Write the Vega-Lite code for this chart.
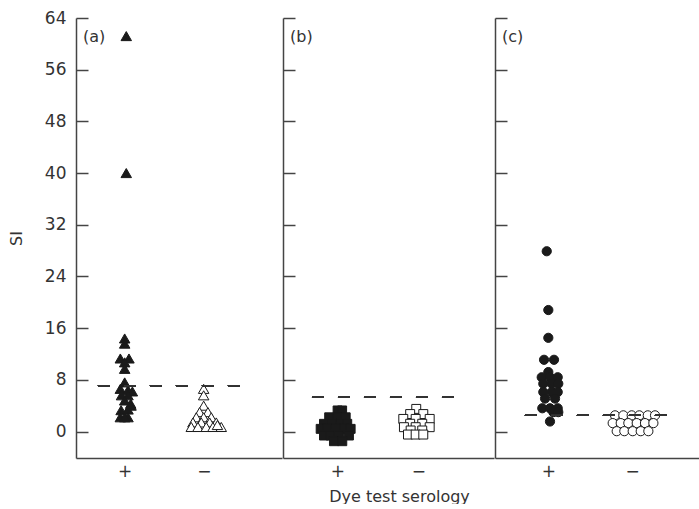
{
  "$schema": "https://vega.github.io/schema/vega-lite/v6.json",
  "padding": {"left": 8, "top": 9, "right": 0, "bottom": 0},
  "spacing": 0,
  "datasets": {
    "pts": [
      {"p": "a", "s": "+", "si": 61.2, "dx": 0.02},
      {"p": "a", "s": "+", "si": 40.0, "dx": 0.02},
      {"p": "a", "s": "+", "si": 14.4, "dx": 0.0},
      {"p": "a", "s": "+", "si": 13.6, "dx": 0.0},
      {"p": "a", "s": "+", "si": 11.3, "dx": -0.055},
      {"p": "a", "s": "+", "si": 11.3, "dx": 0.054},
      {"p": "a", "s": "+", "si": 10.7, "dx": 0.0},
      {"p": "a", "s": "+", "si": 9.7, "dx": 0.0},
      {"p": "a", "s": "+", "si": 7.6, "dx": 0.0},
      {"p": "a", "s": "+", "si": 6.6, "dx": -0.055},
      {"p": "a", "s": "+", "si": 6.4, "dx": 0.042},
      {"p": "a", "s": "+", "si": 6.2, "dx": 0.097},
      {"p": "a", "s": "+", "si": 5.6, "dx": -0.04},
      {"p": "a", "s": "+", "si": 5.6, "dx": 0.042},
      {"p": "a", "s": "+", "si": 4.8, "dx": 0.0},
      {"p": "a", "s": "+", "si": 4.3, "dx": 0.076},
      {"p": "a", "s": "+", "si": 4.0, "dx": 0.08},
      {"p": "a", "s": "+", "si": 3.3, "dx": -0.045},
      {"p": "a", "s": "+", "si": 3.4, "dx": 0.042},
      {"p": "a", "s": "+", "si": 2.2, "dx": -0.055},
      {"p": "a", "s": "+", "si": 2.2, "dx": 0.042},
      {"p": "a", "s": "+", "si": 2.2, "dx": 0.0},
      {"p": "a", "s": "−", "si": 6.6, "dx": -0.004},
      {"p": "a", "s": "−", "si": 5.6, "dx": -0.004},
      {"p": "a", "s": "−", "si": 4.0, "dx": -0.004},
      {"p": "a", "s": "−", "si": 3.0, "dx": -0.055},
      {"p": "a", "s": "−", "si": 3.0, "dx": 0.05},
      {"p": "a", "s": "−", "si": 2.2, "dx": -0.097},
      {"p": "a", "s": "−", "si": 2.2, "dx": -0.004},
      {"p": "a", "s": "−", "si": 2.2, "dx": 0.092},
      {"p": "a", "s": "−", "si": 1.4, "dx": -0.139},
      {"p": "a", "s": "−", "si": 1.4, "dx": -0.034},
      {"p": "a", "s": "−", "si": 1.4, "dx": 0.072},
      {"p": "a", "s": "−", "si": 1.4, "dx": 0.155},
      {"p": "a", "s": "−", "si": 0.7, "dx": -0.16},
      {"p": "a", "s": "−", "si": 0.7, "dx": -0.076},
      {"p": "a", "s": "−", "si": 0.7, "dx": 0.029},
      {"p": "a", "s": "−", "si": 0.7, "dx": 0.113},
      {"p": "a", "s": "−", "si": 0.7, "dx": 0.218},
      {"p": "a", "s": "−", "si": 1.0, "dx": 0.17},
      {"p": "b", "s": "+", "si": 3.26, "dx": 0.004},
      {"p": "b", "s": "+", "si": 3.26, "dx": 0.06},
      {"p": "b", "s": "+", "si": 2.2, "dx": -0.1},
      {"p": "b", "s": "+", "si": 2.2, "dx": 0.004},
      {"p": "b", "s": "+", "si": 2.2, "dx": 0.104},
      {"p": "b", "s": "+", "si": 1.19, "dx": -0.164},
      {"p": "b", "s": "+", "si": 1.19, "dx": -0.062},
      {"p": "b", "s": "+", "si": 1.19, "dx": 0.042},
      {"p": "b", "s": "+", "si": 1.19, "dx": 0.123},
      {"p": "b", "s": "+", "si": 0.41, "dx": -0.205},
      {"p": "b", "s": "+", "si": 0.41, "dx": -0.123},
      {"p": "b", "s": "+", "si": 0.41, "dx": -0.02},
      {"p": "b", "s": "+", "si": 0.41, "dx": 0.083},
      {"p": "b", "s": "+", "si": 0.41, "dx": 0.165},
      {"p": "b", "s": "+", "si": -0.62, "dx": -0.164},
      {"p": "b", "s": "+", "si": -0.62, "dx": -0.081},
      {"p": "b", "s": "+", "si": -0.62, "dx": 0.021},
      {"p": "b", "s": "+", "si": -0.62, "dx": 0.144},
      {"p": "b", "s": "+", "si": -1.5, "dx": -0.041},
      {"p": "b", "s": "+", "si": -1.5, "dx": 0.062},
      {"p": "b", "s": "−", "si": 3.5, "dx": -0.025},
      {"p": "b", "s": "−", "si": 2.7, "dx": -0.1},
      {"p": "b", "s": "−", "si": 2.7, "dx": 0.062},
      {"p": "b", "s": "−", "si": 1.95, "dx": -0.185},
      {"p": "b", "s": "−", "si": 1.95, "dx": -0.032},
      {"p": "b", "s": "−", "si": 1.95, "dx": 0.141},
      {"p": "b", "s": "−", "si": 1.2, "dx": -0.1},
      {"p": "b", "s": "−", "si": 1.2, "dx": 0.049},
      {"p": "b", "s": "−", "si": 0.67, "dx": -0.177},
      {"p": "b", "s": "−", "si": 0.67, "dx": -0.032},
      {"p": "b", "s": "−", "si": 0.67, "dx": 0.141},
      {"p": "b", "s": "−", "si": 0.16, "dx": -0.094},
      {"p": "b", "s": "−", "si": 0.16, "dx": 0.049},
      {"p": "b", "s": "−", "si": -0.47, "dx": -0.127},
      {"p": "b", "s": "−", "si": -0.47, "dx": -0.032},
      {"p": "b", "s": "−", "si": -0.47, "dx": 0.062},
      {"p": "c", "s": "+", "si": 27.9, "dx": -0.019},
      {"p": "c", "s": "+", "si": 18.8, "dx": 0.0},
      {"p": "c", "s": "+", "si": 14.5, "dx": 0.0},
      {"p": "c", "s": "+", "si": 11.1, "dx": -0.051},
      {"p": "c", "s": "+", "si": 11.1, "dx": 0.068},
      {"p": "c", "s": "+", "si": 9.2, "dx": 0.0},
      {"p": "c", "s": "+", "si": 8.4, "dx": -0.079},
      {"p": "c", "s": "+", "si": 8.4, "dx": 0.02},
      {"p": "c", "s": "+", "si": 8.4, "dx": 0.112},
      {"p": "c", "s": "+", "si": 7.4, "dx": -0.06},
      {"p": "c", "s": "+", "si": 7.4, "dx": 0.041},
      {"p": "c", "s": "+", "si": 7.4, "dx": 0.119},
      {"p": "c", "s": "+", "si": 6.1, "dx": -0.06},
      {"p": "c", "s": "+", "si": 6.1, "dx": 0.041},
      {"p": "c", "s": "+", "si": 6.1, "dx": 0.112},
      {"p": "c", "s": "+", "si": 5.1, "dx": -0.039},
      {"p": "c", "s": "+", "si": 5.1, "dx": 0.08},
      {"p": "c", "s": "+", "si": 3.6, "dx": -0.072},
      {"p": "c", "s": "+", "si": 3.6, "dx": 0.02},
      {"p": "c", "s": "+", "si": 3.6, "dx": 0.112},
      {"p": "c", "s": "+", "si": 3.0, "dx": 0.06},
      {"p": "c", "s": "+", "si": 3.0, "dx": 0.119},
      {"p": "c", "s": "+", "si": 1.55, "dx": 0.02},
      {"p": "c", "s": "−", "si": 2.5, "dx": -0.203},
      {"p": "c", "s": "−", "si": 2.5, "dx": -0.104},
      {"p": "c", "s": "−", "si": 2.5, "dx": -0.004},
      {"p": "c", "s": "−", "si": 2.5, "dx": 0.087},
      {"p": "c", "s": "−", "si": 2.5, "dx": 0.188},
      {"p": "c", "s": "−", "si": 2.5, "dx": 0.275},
      {"p": "c", "s": "−", "si": 1.3, "dx": -0.231},
      {"p": "c", "s": "−", "si": 1.3, "dx": -0.135},
      {"p": "c", "s": "−", "si": 1.3, "dx": -0.044},
      {"p": "c", "s": "−", "si": 1.3, "dx": 0.056},
      {"p": "c", "s": "−", "si": 1.3, "dx": 0.155},
      {"p": "c", "s": "−", "si": 1.3, "dx": 0.255},
      {"p": "c", "s": "−", "si": 0.05, "dx": -0.183},
      {"p": "c", "s": "−", "si": 0.05, "dx": -0.092},
      {"p": "c", "s": "−", "si": 0.05, "dx": 0.008},
      {"p": "c", "s": "−", "si": 0.05, "dx": 0.104},
      {"p": "c", "s": "−", "si": 0.05, "dx": 0.195}
    ]
  },
  "hconcat": [
    {
      "width": 206,
      "height": 440,
      "title": {"text": "(a)", "anchor": "start", "frame": "group", "offset": -36, "dx": 7},
      "data": {"name": "pts"},
      "transform": [
        {"filter": "datum.p == 'a'"},
        {"calculate": "(datum.s == '+' ? 1 : 2) + datum.dx", "as": "x"}
      ],
      "layer": [
        {
          "mark": {"type": "point", "shape": "triangle-up", "filled": true, "size": 110, "stroke": "#1a1a1a", "strokeWidth": 1, "opacity": 1},
          "encoding": {
            "x": {"field": "x", "type": "quantitative", "scale": {"domain": [0.386, 2.984], "nice": false, "zero": false},
              "axis": {"values": [1, 2], "labelExpr": "datum.value == 1 ? '+' : '−'", "ticks": false, "title": null}},
            "y": {"field": "si", "type": "quantitative", "scale": {"domain": [-4.1, 64], "nice": false, "zero": false},
              "axis": {"values": [0, 8, 16, 24, 32, 40, 48, 56, 64], "tickSize": -12, "labelPadding": 22, "title": "SI", "titlePadding": 20}},
            "fill": {"field": "s", "type": "nominal", "scale": {"domain": ["+", "−"], "range": ["#1a1a1a", "#ffffff"]}, "legend": null}
          }
        },
        {
          "mark": {"type": "rule", "strokeDash": [12, 14], "stroke": "#333", "strokeWidth": 1.3},
          "encoding": {"x": {"datum": 0.663}, "x2": {"datum": 2.517}, "y": {"datum": 7.1}}
        }
      ]
    },
    {
      "width": 211,
      "height": 440,
      "title": {"text": "(b)", "anchor": "start", "frame": "group", "offset": -28, "dx": 7},
      "data": {"name": "pts"},
      "transform": [
        {"filter": "datum.p == 'b'"},
        {"calculate": "(datum.s == '+' ? 1 : 2) + datum.dx", "as": "x"}
      ],
      "layer": [
        {
          "mark": {"type": "point", "shape": "square", "filled": true, "size": 80, "stroke": "#1a1a1a", "strokeWidth": 1, "opacity": 1},
          "encoding": {
            "x": {"field": "x", "type": "quantitative", "scale": {"domain": [0.33, 2.935], "nice": false, "zero": false},
              "axis": {"values": [1, 2], "labelExpr": "datum.value == 1 ? '+' : '−'", "ticks": false, "title": "Dye test serology", "titleX": 116}},
            "y": {"field": "si", "type": "quantitative", "scale": {"domain": [-4.1, 64], "nice": false, "zero": false},
              "axis": {"values": [0, 8, 16, 24, 32, 40, 48, 56, 64], "tickSize": -12, "labels": false, "title": null}},
            "fill": {"field": "s", "type": "nominal", "scale": {"domain": ["+", "−"], "range": ["#1a1a1a", "#ffffff"]}, "legend": null}
          }
        },
        {
          "mark": {"type": "rule", "strokeDash": [12, 14], "stroke": "#333", "strokeWidth": 1.3},
          "encoding": {"x": {"datum": 0.688}, "x2": {"datum": 2.466}, "y": {"datum": 5.3}}
        }
      ]
    },
    {
      "width": 204,
      "height": 440,
      "title": {"text": "(c)", "anchor": "start", "frame": "group", "offset": -28, "dx": 7},
      "data": {"name": "pts"},
      "transform": [
        {"filter": "datum.p == 'c'"},
        {"calculate": "(datum.s == '+' ? 1 : 2) + datum.dx", "as": "x"}
      ],
      "layer": [
        {
          "mark": {"type": "point", "shape": "circle", "filled": true, "size": 85, "stroke": "#1a1a1a", "strokeWidth": 1, "opacity": 1},
          "encoding": {
            "x": {"field": "x", "type": "quantitative", "scale": {"domain": [0.363, 2.8], "nice": false, "zero": false},
              "axis": {"values": [1, 2], "labelExpr": "datum.value == 1 ? '+' : '−'", "ticks": false, "title": null}},
            "y": {"field": "si", "type": "quantitative", "scale": {"domain": [-4.1, 64], "nice": false, "zero": false},
              "axis": {"values": [0, 8, 16, 24, 32, 40, 48, 56, 64], "tickSize": -12, "labels": false, "title": null}},
            "fill": {"field": "s", "type": "nominal", "scale": {"domain": ["+", "−"], "range": ["#1a1a1a", "#ffffff"]}, "legend": null}
          }
        },
        {
          "mark": {"type": "rule", "strokeDash": [12, 14], "stroke": "#333", "strokeWidth": 1.3},
          "encoding": {"x": {"datum": 0.721}, "x2": {"datum": 2.43}, "y": {"datum": 2.5}}
        }
      ]
    }
  ],
  "resolve": {"scale": {"fill": "independent"}},
  "config": {
    "view": {"stroke": null},
    "font": "DejaVu Sans",
    "title": {"fontSize": 16, "fontWeight": "normal", "color": "#333", "font": "DejaVu Sans"},
    "axis": {
      "grid": false,
      "domainColor": "#444",
      "domainWidth": 1.5,
      "tickColor": "#444",
      "tickWidth": 1.5,
      "labelFont": "DejaVu Sans",
      "labelFontSize": 17,
      "labelColor": "#333",
      "titleFont": "DejaVu Sans",
      "titleFontSize": 16,
      "titleFontWeight": "normal",
      "titleColor": "#333"
    },
    "axisX": {"labelPadding": 5, "titlePadding": 9}
  }
}
